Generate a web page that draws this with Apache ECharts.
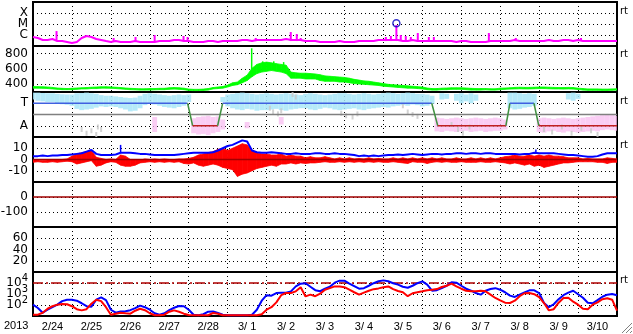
<!DOCTYPE html>
<html><head><meta charset="utf-8">
<script src="https://cdn.jsdelivr.net/npm/echarts@6/dist/echarts.min.js"></script>
<style>html,body{margin:0;padding:0;background:#fff}#c{width:633px;height:334px}</style>
</head><body><div id="c"></div>
<script>
// ---------------- data (hours since 2013-02-24 00:00, one sample per STEP hours) ----------------
const STEP = 3;
const dayLabels = ['2/24','2/25','2/26','2/27','2/28','3/ 1','3/ 2','3/ 3','3/ 4','3/ 5','3/ 6','3/ 7','3/ 8','3/ 9','3/10'];
const yearLabel = '2013';

// GOES X-ray flux, log10 (W/m2)
const xrayLog = [
-6.18,-6.27,-6.45,-6.45,-6.36,-6.55,-6.55,-6.64,
-6.73,-6.64,-6.27,-6.09,-6.18,-6.36,-6.45,-6.55,
-6.64,-6.55,-6.64,-6.64,-6.64,-6.55,-6.64,-6.64,
-6.64,-6.64,-6.55,-6.55,-6.55,-6.45,-6.45,-6.55,
-6.55,-6.64,-6.64,-6.64,-6.55,-6.55,-6.64,-6.55,
-6.55,-6.55,-6.55,-6.45,-6.45,-6.55,-6.45,-6.45,
-6.45,-6.45,-6.45,-6.45,-6.36,-6.45,-6.45,-6.45,
-6.55,-6.55,-6.55,-6.64,-6.64,-6.64,-6.64,-6.55,
-6.64,-6.64,-6.64,-6.55,-6.55,-6.55,-6.55,-6.45,
-6.45,-6.45,-6.45,-6.45,-6.55,-6.55,-6.45,-6.55,
-6.55,-6.55,-6.55,-6.55,-6.55,-6.55,-6.55,-6.64,
-6.55,-6.55,-6.64,-6.64,-6.64,-6.64,-6.55,-6.55,
-6.55,-6.55,-6.55,-6.45,-6.55,-6.55,-6.55,-6.55,
-6.55,-6.55,-6.45,-6.55,-6.55,-6.45,-6.45,-6.55,
-6.45,-6.55,-6.55,-6.55,-6.55,-6.55,-6.55,-6.55,
-6.55];
const xraySpikeT    = [14.5,49.7,63.2,75,92.8,95.3,137.3,158.9,162.6,165,217.5,220.6,224,226.7,229.8,232.9,237.2,244,247.1,281,297.6,337.8];
const xraySpikePeak = [-5.64,-6.27,-6.18,-6.0,-6.09,-6.18,-6.27,-5.73,-5.91,-6.27,-6.18,-6.09,-5.09,-6.0,-6.09,-6.18,-5.82,-6.18,-6.18,-5.82,-6.27,-6.27];
const xraySpikeBase = -6.55;
const flareT = [224];
const flareV = [-4.94];

// solar wind speed band (km/s)
const speedLo = [
350,350,348,345,340,335,330,330,
330,335,340,340,345,345,350,350,
348,345,340,335,330,328,325,325,
325,328,330,330,335,338,335,330,
320,318,318,320,325,340,345,350,
365,385,395,420,450,500,540,560,
570,580,570,560,540,480,480,480,
470,470,470,450,440,440,440,430,
430,420,410,405,400,395,390,385,
375,370,365,360,355,350,350,345,
340,330,325,325,330,330,335,335,
335,330,325,325,325,328,325,325,
330,335,338,340,342,340,340,342,
345,345,342,340,340,338,340,338,
332,325,322,322,322,320,320,322,
325];
const speedHi = [
372,370,368,365,360,352,348,345,
348,352,355,358,362,365,368,368,
366,362,358,352,348,345,342,342,
345,345,348,348,355,358,355,350,
338,335,335,338,345,358,365,372,
390,420,430,480,520,610,660,680,
690,680,670,660,650,560,550,545,
545,540,535,525,510,505,500,495,
490,480,465,455,445,440,430,420,
410,400,395,390,385,380,375,370,
365,352,345,345,350,352,355,355,
355,352,348,345,345,345,342,342,
350,352,355,360,362,360,360,362,
365,365,362,360,358,358,360,358,
350,345,340,340,340,338,338,340,
342];
const speedSpikeT    = [134.8,141.6,148.4,154.5];
const speedSpikeBase = [560,600,600,600];
const speedSpikePeak = [870,700,700,690];

// IMF sector (angle, deg): cyan = toward cloud, pink = away cloud
const cyanHi = [
355,355,352,350,350,345,342,340,
340,350,352,355,350,345,335,330,
330,325,320,315,312,315,330,345,
350,345,340,335,330,335,340,335,
340,null,null,null,null,null,null,320,
340,345,350,355,350,345,340,345,
350,345,340,345,350,345,340,335,
345,350,345,340,335,340,345,350,
350,345,340,345,350,345,340,345,
350,355,350,345,350,355,350,345,
345,340,330,null,350,345,null,345,
350,340,350,340,null,null,null,null,
null,null,355,355,350,345,350,345,
null,null,null,null,null,null,350,355,
345,null,null,null,null,null,null,null,
null];
const cyanLo = [
300,290,285,280,280,270,262,258,
250,225,215,220,225,235,245,240,
245,240,230,220,205,210,230,255,
265,260,250,240,235,230,240,250,
280,null,null,null,null,null,null,280,
245,230,220,215,225,220,210,215,
215,220,225,215,210,220,225,230,
230,220,215,225,235,230,220,215,
220,225,230,220,215,225,230,235,
240,235,245,250,255,250,260,255,
245,250,265,null,300,305,null,290,
270,285,270,290,null,null,null,null,
null,null,230,220,225,235,240,250,
null,null,null,null,null,null,300,290,
305,null,null,null,null,null,null,null,
null];
const pinkHi = [
null,null,null,null,null,null,null,null,
null,null,null,null,null,null,null,null,
null,null,null,null,null,null,null,null,
null,160,null,null,null,null,null,null,
null,150,160,165,170,160,165,140,
null,null,null,null,120,null,null,null,
null,null,null,160,null,null,null,null,
null,null,null,null,null,null,null,null,
null,null,null,null,null,null,null,null,
null,null,null,null,null,null,null,null,
null,null,null,155,150,145,150,155,
150,145,150,155,150,145,150,155,
150,140,null,null,null,null,null,null,
150,155,150,145,150,155,150,145,
150,155,160,165,170,175,180,175,
170];
const pinkLo = [
null,null,null,null,null,null,null,null,
null,null,null,null,null,null,null,null,
null,null,null,null,null,null,null,null,
null,40,null,null,null,null,null,null,
null,30,20,25,15,30,40,60,
null,null,null,null,70,null,null,null,
null,null,null,100,null,null,null,null,
null,null,null,null,null,null,null,null,
null,null,null,null,null,null,null,null,
null,null,null,null,null,null,null,null,
null,null,null,45,40,50,45,40,
45,50,40,45,50,40,45,50,
50,60,null,null,null,null,null,null,
40,35,45,50,40,35,45,40,
35,40,45,50,45,55,60,55,
50];
const grayT = [30,33,36,39,40,42,146,148,151,153,160,162,190,193,197,200,228,231,234,237,258,262,265,269,315,320,326,332,338,344,348];
const grayA = [60,30,50,20,80,60,230,200,185,210,340,320,190,170,160,185,250,200,180,165,100,60,30,80,60,40,80,30,70,50,20];
const sectorT = [0,95.3,98.4,113.8,116.9,245.8,249.5,291.5,294,308.8,311.8,360];
const sectorV = [270,270,90,90,270,270,90,90,270,270,90,90];

// IMF |B| (blue) and Bz band (red), nT
const bt = [
3,3,3.5,3,3.5,3.5,4,4,
4.5,5,5.5,7,8.5,5,4,4,
4,4.5,6,6,6,5.5,5,5,
4.5,4,4,4,4,4,4.5,5,
5.5,6,6,6,6,6.5,8,10,
12,13,15,17,16,8,6.5,6,
6,6.5,6,5.5,5,5,5.5,5,
5,5,5.5,5.5,5,5,5.5,5,
5,4.5,4,3,3.5,3,3.5,3,
3.5,4,4,4.5,4,4.5,5,4.5,
4,4.5,5,5,4.5,5,5,5.5,
5.5,5,5.5,5.5,5,5.5,5.5,5,
5,5,5,5,4.5,5,5,6,
5.5,5.5,5.5,5.5,5,4.5,4,4,
3.5,3,2.5,2.5,3,4.5,5.5,5.5,
5.5];
const btSpikeT = [54,310];
const btSpikeBase = [6,5.5];
const btSpikePeak = [13,9];
const bzLo = [
-2.5,-2,-2.5,-2.5,-2,-2.5,-2,-1.5,
-2,-4,-3,-2,-1,-6,-5,-3,
-2,-2.5,-5,-6,-6,-5,-3,-2.5,
-2,-2.5,-2,-2.5,-2,-2.5,-2,-3.5,
-4,-3,-5,-6,-5,-4,-5,-7,
-8,-9,-15,-13,-12,-10,-8,-7,
-6,-5,-6,-4,-4,-3,-4,-3,
-3.5,-3,-3,-2.5,-2,-2.5,-2.5,-2,
-2.5,-2,-2.5,-2,-2.5,-2,-2.5,-2,
-2.5,-2.5,-2,-2.5,-3,-3.5,-2,-2.5,
-2.5,-3.5,-2.5,-2,-2.5,-2,-2.5,-2.5,
-2,-2.5,-2.5,-2.5,-2,-2.5,-2.5,-2,
-2.5,-3,-4,-3,-4,-5,-4,-6,
-5,-7,-6,-5,-4,-3,-3,-2.5,
-2,-2,-2,-2,-2.5,-2.5,-3.5,-2.5,
-2.5];
const bzHi = [
-0.5,-0.5,-1,-0.5,0,-0.5,0,0.5,
3,5,6,7,8,2,1,0,
0.5,0,4,3,0,0,-0.5,0.5,
0,0.5,0,0.5,0,0,0.5,0.5,
1,2,4,5,6,7,9,10,
8,10,12,14,13,8,6,5,
5,4,4,5,3,4,3,3,
1.5,2.5,1.5,1.5,2.5,1.5,0.5,1.5,
0.5,1.5,0.5,1,0.5,1.5,0.5,1,
0.5,0.5,1.5,0.5,1.5,0.5,1.5,0.5,
1.5,0.5,1.5,0.5,1.5,0.5,0.5,1.5,
0.5,0.5,1.5,0.5,1.5,0.5,1.5,0.5,
1.5,2.5,3,4,3,3,4,3,
4,3,4,3,3,2.5,1.5,1.5,
1.5,0.5,1,0.5,0.5,0.5,1.5,1,
0.5];

// electron flux, log10
const eBlue = [
2.03,1.73,1.3,1.57,1.8,2.03,2.35,2.48,
2.48,2.39,2.16,1.89,1.85,2.48,2.69,2.44,
1.57,1.3,1.42,1.44,1.53,1.71,1.94,1.8,
1.57,1.25,1.12,1.25,1.53,1.75,1.91,1.89,
1.57,1.12,1.07,1.16,1.39,1.42,1.27,1.12,
1.07,1.07,1.07,1.07,1.07,1.12,1.57,2.39,
2.89,2.85,3.09,3.12,3.12,3.24,3.69,3.94,
3.98,3.66,3.35,3.25,3.48,3.66,4.03,4.21,
4.21,3.94,3.71,3.48,3.53,3.75,3.98,4.16,
4.24,4.16,3.98,3.85,3.66,3.57,3.75,3.98,
4.15,3.85,3.3,3.35,3.53,3.75,4.07,4.03,
3.75,3.48,3.3,3.09,2.94,3.3,3.45,3.53,
3.39,3.16,2.85,2.73,2.94,3.15,3.33,3.33,
3.09,2.18,1.8,2.07,2.53,2.89,3.12,3.3,
2.98,2.66,2.21,2.16,2.44,2.75,2.94,3.0,
2.89];
const eRed = [
1.12,1.12,1.3,1.66,1.89,2.03,2.09,2.07,
1.89,1.62,1.51,1.62,2.12,2.48,2.35,1.8,
1.12,1.21,1.3,1.25,1.21,1.48,1.66,1.53,
1.25,1.07,1.07,1.12,1.39,1.51,1.39,1.21,
1.09,1.07,1.07,1.07,1.07,1.27,1.21,1.07,
1.07,1.07,1.07,1.07,1.07,1.07,1.07,1.16,
1.57,1.8,2.24,2.89,3.09,3.09,3.24,3.62,
2.78,2.94,2.8,3.03,3.39,3.53,3.69,3.69,
3.62,3.39,3.16,2.94,3.12,3.3,3.44,3.51,
3.62,3.69,3.44,3.27,3.16,2.8,3.07,3.16,
3.25,3.35,3.39,3.45,3.64,3.75,3.94,3.69,
3.48,3.3,3.24,3.24,3.3,3.24,2.94,2.64,
2.42,2.21,2.18,2.39,2.8,3.07,3.09,2.98,
2.71,2.18,1.51,1.62,2.21,2.64,2.66,2.3,
2.03,1.66,1.62,2.03,2.24,2.53,2.62,2.48,
1.48];
const eAlertLevel = 4;

// reference lines
const bzZero = 0, dstZero = 0, sectorMid = 180;

// ---------------- checks ----------------
const N = 121;
const chk = {xrayLog, speedLo, speedHi, cyanHi, cyanLo, pinkHi, pinkLo, bt, bzLo, bzHi, eBlue, eRed};
for (const k in chk) if (chk[k].length !== N) throw new Error(k + ' length ' + chk[k].length);

// ---------------- chart ----------------
const T = i => i * STEP;
const YFONT = {fontFamily: 'DejaVu Sans', fontSize: 12, color: '#000'};
const DOT = {color: '#000', width: 1, type: [1, 3]};
const PANELS = [{top: 2, height: 44}, {top: 46, height: 46}, {top: 92, height: 45}, {top: 137, height: 45},
                {top: 182, height: 45}, {top: 227, height: 45}, {top: 272, height: 44}];

const grids = PANELS.map(p => ({left: 33, width: 584, top: p.top, height: p.height, show: true,
  borderColor: '#000', borderWidth: 2, backgroundColor: 'transparent',
  containLabel: false, outerBoundsMode: 'none'}));

const xAxes = PANELS.map((p, i) => ({type: 'value', gridIndex: i, position: 'bottom', offset: 0,
  min: 0, max: 360, interval: 24,
  axisLine: {show: false, onZero: false}, axisTick: {show: false}, axisLabel: {show: false},
  splitLine: {show: true, lineStyle: DOT}}));
xAxes.push({type: 'value', gridIndex: 6, position: 'bottom', offset: 0, min: 0, max: 360, interval: 12,
  axisLine: {show: false, onZero: false}, axisTick: {show: false}, splitLine: {show: false},
  axisLabel: {show: true, margin: 5, fontFamily: 'Liberation Sans', fontSize: 11, color: '#000',
    formatter: v => (v % 24 === 12) ? dayLabels[(v - 12) / 24] : ''}});

function yAx(i, min, max, interval, fmt, extra) {
  return Object.assign({type: 'value', gridIndex: i, position: 'left', min, max, interval,
    axisLine: {show: false, onZero: false}, axisTick: {show: false},
    axisLabel: Object.assign({show: true, margin: 5, formatter: fmt}, YFONT),
    splitLine: {show: true, lineStyle: DOT}}, extra || {});
}
const xrayNames = {'-6': 'C', '-5': 'M', '-4': 'X'};
const yAxes = [
  yAx(0, -7, -3, 1, v => xrayNames[String(v)] || ''),
  yAx(1, 300, 900, 100, v => (v % 200 === 0) ? String(v) : '',
      {splitLine: {show: true, lineStyle: {color: ['rgba(0,0,0,0)', '#000'], width: 1, type: [1, 3]}}}),
  yAx(2, 0, 360, 90, v => v === 270 ? 'T' : (v === 90 ? 'A' : '')),
  yAx(3, -20, 20, 10, v => (v === -20 || v === 20) ? '' : String(v)),
  yAx(4, -200, 100, 100, v => (v === 0 || v === -100) ? String(v) : ''),
  yAx(5, 0, 80, 20, v => (v > 0 && v < 80) ? String(v) : ''),
  yAx(6, 1, 5, 1, v => (v >= 2 && v <= 4) ? '10{s|' + v + '}' : '')
];
yAxes[6].axisLabel.rich = {s: {fontFamily: 'DejaVu Sans', fontSize: 10, color: '#000', padding: [0, 0, 9, 0]}};

function polyBand(color) {
  return function (params, api) {
    const i = params.dataIndexInside;
    if (i >= params.dataInsideLength - 1) return null;
    const t0 = api.value(0, i), lo0 = api.value(1, i), hi0 = api.value(2, i);
    const t1 = api.value(0, i + 1), lo1 = api.value(1, i + 1), hi1 = api.value(2, i + 1);
    const pts = [api.coord([t0, hi0]), api.coord([t1, hi1]), api.coord([t1, lo1]), api.coord([t0, lo0])];
    return {type: 'polygon', shape: {points: pts}, style: {fill: color, stroke: color, lineWidth: 0.8}};
  };
}
function rectCloud(color, opacity) {
  return function (params, api) {
    const t = api.value(0), lo = api.value(1), hi = api.value(2);
    const a = api.coord([t - STEP / 2, hi]), b = api.coord([t + STEP / 2, lo]);
    return {type: 'rect', shape: {x: a[0], y: a[1], width: b[0] - a[0], height: b[1] - a[1]},
      style: {fill: color, opacity: opacity}};
  };
}
function spike(color, w) {
  return function (params, api) {
    const t = api.value(0);
    const a = api.coord([t, api.value(1)]), b = api.coord([t, api.value(2)]);
    return {type: 'line', shape: {x1: a[0], y1: a[1], x2: b[0], y2: b[1]}, style: {stroke: color, lineWidth: w}};
  };
}
const line = (xi, data, color, w, extra) => Object.assign({type: 'line', xAxisIndex: xi, yAxisIndex: xi,
  data, showSymbol: false, symbol: 'none', silent: true, animation: false,
  lineStyle: {color, width: w}, itemStyle: {color}}, extra || {});
const custom = (xi, data, render, z) => ({type: 'custom', xAxisIndex: xi, yAxisIndex: xi, data,
  renderItem: render, encode: {x: 0, y: [1, 2]}, clip: true, silent: true, animation: false, z: z || 2});

const series = [];
// panel 1: X-ray
series.push(line(0, xrayLog.map((v, i) => [T(i), v]), '#ff00ff', 2));
series.push(custom(0, xraySpikeT.map((t, k) => [t, xraySpikeBase, xraySpikePeak[k]]), spike('#ff00ff', 2)));
series.push({type: 'scatter', xAxisIndex: 0, yAxisIndex: 0, data: flareT.map((t, k) => [t, flareV[k]]),
  symbol: 'circle', symbolSize: 7, itemStyle: {color: 'rgba(0,0,0,0)', borderColor: '#0000c0', borderWidth: 1.5},
  silent: true, z: 5});
// panel 2: speed
series.push(custom(1, speedLo.map((lo, i) => [T(i), lo, speedHi[i]]), polyBand('#00ff00')));
series.push(custom(1, speedSpikeT.map((t, k) => [t, speedSpikeBase[k], speedSpikePeak[k]]), spike('#00ff00', 1.5)));
// panel 3: sector
const cloud = (lo, hi) => lo.map((v, i) => [T(i), v, hi[i]]).filter(d => d[1] !== null && d[2] !== null);
series.push(custom(2, cloud(cyanLo, cyanHi), rectCloud('#a8e6f8', 0.85), 1));
series.push(custom(2, cloud(pinkLo, pinkHi), rectCloud('#f8bcf0', 0.75), 1));
series.push({type: 'scatter', xAxisIndex: 2, yAxisIndex: 2, data: grayT.map((t, k) => [t, grayA[k]]),
  symbol: 'rect', symbolSize: [2, 5], itemStyle: {color: '#c8c8c8'}, silent: true, z: 1});
series.push(line(2, [[0, sectorMid], [360, sectorMid]], '#808080', 1.5));
for (let k = 0; k < sectorT.length - 1; k++) {
  const a = sectorV[k], b = sectorV[k + 1];
  const col = (a === 270 && b === 270) ? '#4060e0' : (a === 90 && b === 90) ? '#c02020' : '#409040';
  series.push(line(2, [[sectorT[k], a], [sectorT[k + 1], b]], col, 1.5, {z: 4}));
}
// panel 4: IMF
series.push(line(3, [[0, bzZero], [360, bzZero]], '#a00000', 1.5));
series.push(custom(3, bzLo.map((lo, i) => [T(i), lo, bzHi[i]]), polyBand('#ff0000'), 3));
series.push(line(3, bt.map((v, i) => [T(i), v]), '#0000ff', 2, {z: 4}));
series.push(custom(3, btSpikeT.map((t, k) => [t, btSpikeBase[k], btSpikePeak[k]]), spike('#0000ff', 1.5), 4));
// panel 5: Dst reference
series.push(line(4, [[0, dstZero], [360, dstZero]], '#a00000', 1.5));
// panel 7: electrons
series.push(line(6, [[0, eAlertLevel], [360, eAlertLevel]], '#b00000', 1.5, {lineStyle: {color: '#b00000', width: 1.5, type: [10, 3, 2, 3]}}));
series.push(line(6, eBlue.map((v, i) => [T(i), v]), '#0000ff', 2));
series.push(line(6, eRed.map((v, i) => [T(i), v]), '#ff0000', 2));

const rtY = [11, 54.5, 101, 145.5, 280.5];
const graphic = [{type: 'text', left: 4, top: 320, style: {text: yearLabel, font: '11px "Liberation Sans"', fill: '#000'}}];
rtY.forEach(y => graphic.push({type: 'text', x: 620, y: y, style: {text: 'rt', font: '10px "DejaVu Sans"', fill: '#000', verticalAlign: 'middle'}}));
[[622, 333, 632, 323], [626, 333, 632, 327], [630, 333, 632, 331]].forEach(s =>
  graphic.push({type: 'line', shape: {x1: s[0], y1: s[1], x2: s[2], y2: s[3]}, style: {stroke: '#808080', lineWidth: 1}}));

const chart = echarts.init(document.getElementById('c'));
chart.setOption({animation: false, backgroundColor: '#fff', grid: grids, xAxis: xAxes, yAxis: yAxes, series, graphic});
</script></body></html>
